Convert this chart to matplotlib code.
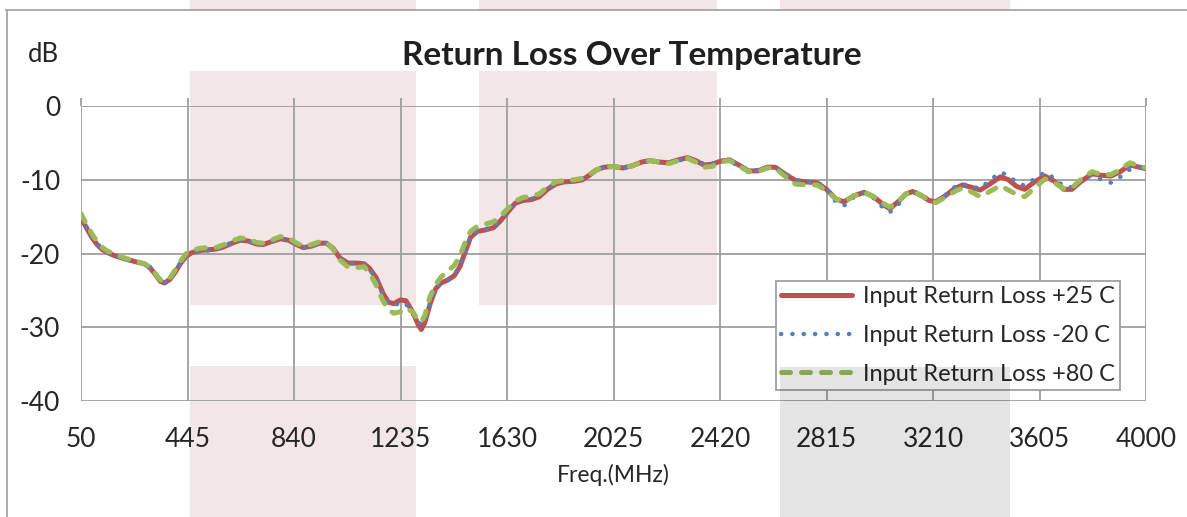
import matplotlib
matplotlib.use("Agg")
import matplotlib.pyplot as plt
from matplotlib.patches import Rectangle
from matplotlib.lines import Line2D

plt.rcParams["font.family"] = ["Lato", "DejaVu Sans"]

# ---- data (MHz, dB) ----
freq = [50, 70, 90, 110, 130, 150, 175, 210, 250, 285,
        305, 325, 345, 360, 380, 400, 420, 440, 460, 490,
        520, 550, 580, 610, 640, 670, 700, 725, 755, 790,
        820, 850, 875, 905, 935, 960, 985, 1010, 1040, 1075,
        1100, 1120, 1145, 1170, 1190, 1210, 1235, 1255, 1280, 1300,
        1312, 1325, 1345, 1365, 1385, 1410, 1435, 1455, 1475, 1495,
        1520, 1550, 1580, 1605, 1630, 1660, 1690, 1720, 1750, 1780,
        1810, 1840, 1880, 1910, 1935, 1960, 1990, 2025, 2060, 2095,
        2130, 2160, 2195, 2230, 2265, 2300, 2330, 2360, 2390, 2420,
        2455, 2490, 2525, 2560, 2595, 2625, 2660, 2700, 2740, 2780,
        2815, 2850, 2880, 2915, 2955, 2990, 3030, 3050, 3080, 3110,
        3135, 3165, 3195, 3220, 3255, 3290, 3320, 3350, 3385, 3420,
        3460, 3490, 3520, 3550, 3590, 3625, 3660, 3695, 3725, 3760,
        3800, 3835, 3870, 3905, 3940, 3975, 4000]

rl_p25 = [-15.2, -16.5, -17.8, -18.8, -19.5, -19.9, -20.3, -20.7, -21.1, -21.4,
          -21.9, -22.8, -23.8, -24.0, -23.5, -22.5, -21.3, -20.4, -19.9, -19.6,
          -19.5, -19.4, -19.1, -18.6, -18.2, -18.3, -18.7, -18.8, -18.4, -18.0,
          -18.2, -18.8, -19.2, -19.0, -18.6, -18.6, -19.3, -20.6, -21.3, -21.3,
          -21.4, -22.0, -23.3, -25.4, -26.6, -26.8, -26.3, -26.4, -27.9, -29.6,
          -30.3, -29.4, -26.8, -24.8, -24.0, -23.6, -23.0, -21.8, -19.8, -17.8,
          -17.0, -16.8, -16.5, -15.6, -14.5, -13.2, -12.8, -12.7, -12.3, -11.3,
          -10.6, -10.3, -10.2, -10.0, -9.4, -8.7, -8.3, -8.2, -8.4, -8.1,
          -7.6, -7.4, -7.6, -7.7, -7.3, -7.0, -7.4, -8.0, -7.9, -7.5,
          -7.3, -8.0, -8.8, -8.8, -8.3, -8.3, -9.2, -10.1, -10.3, -10.4,
          -11.3, -12.6, -13.0, -12.2, -11.7, -12.3, -13.5, -13.9, -13.0, -11.9,
          -11.6, -12.1, -12.8, -13.0, -12.2, -11.2, -10.7, -11.0, -11.4, -10.6,
          -9.6, -10.0, -10.9, -11.3, -10.2, -9.5, -10.2, -11.3, -11.3, -10.2,
          -9.2, -9.4, -9.5, -8.9, -8.0, -8.3, -8.5]

rl_m20 = [-15.0, -16.4, -17.7, -18.7, -19.4, -19.9, -20.3, -20.7, -21.1, -21.4,
          -21.8, -22.7, -23.7, -24.0, -23.5, -22.4, -21.2, -20.3, -19.9, -19.7,
          -19.6, -19.5, -19.0, -18.5, -18.2, -18.3, -18.7, -18.8, -18.4, -18.0,
          -18.2, -18.8, -19.2, -19.0, -18.6, -18.6, -19.3, -20.6, -21.3, -21.4,
          -21.5, -22.1, -23.5, -25.6, -26.8, -27.1, -26.6, -26.8, -28.2, -29.3,
          -29.6, -29.2, -27.0, -24.9, -24.0, -23.6, -22.9, -21.6, -19.6, -17.7,
          -16.9, -16.7, -16.4, -15.5, -14.4, -13.1, -12.7, -12.6, -12.2, -11.2,
          -10.5, -10.2, -10.1, -9.9, -9.3, -8.7, -8.3, -8.2, -8.4, -8.1,
          -7.6, -7.5, -7.6, -7.7, -7.4, -7.1, -7.6, -7.8, -7.8, -7.5,
          -7.4, -8.2, -8.6, -8.7, -8.4, -8.4, -9.2, -10.0, -10.3, -10.3,
          -11.2, -13.0, -13.5, -12.4, -11.8, -12.5, -14.0, -14.4, -13.4, -12.0,
          -11.5, -12.0, -12.7, -12.9, -12.1, -11.0, -10.6, -10.9, -11.2, -10.1,
          -9.0, -9.4, -10.4, -10.8, -9.8, -9.0, -9.8, -10.9, -11.0, -10.0,
          -9.3, -10.0, -10.4, -9.6, -8.6, -8.4, -8.5]

rl_p80 = [-14.6, -16.0, -17.3, -18.4, -19.2, -19.7, -20.1, -20.6, -21.0, -21.4,
          -21.8, -22.7, -23.6, -23.8, -23.3, -22.2, -21.0, -20.0, -19.6, -19.3,
          -19.2, -19.2, -18.8, -18.3, -17.9, -18.0, -18.5, -18.6, -18.2, -17.7,
          -17.9, -18.6, -19.0, -18.8, -18.4, -18.5, -19.4, -20.9, -21.8, -21.9,
          -21.8, -22.6, -24.3, -26.4, -27.6, -28.1, -27.9, -27.4, -27.9, -29.0,
          -29.3, -28.4, -25.8, -24.2, -23.2, -22.4, -21.6, -20.3, -18.5, -17.0,
          -16.3, -16.0, -15.7, -15.0, -14.0, -12.9, -12.4, -12.3, -11.9, -11.0,
          -10.3, -10.1, -10.0, -9.8, -9.3, -8.7, -8.3, -8.2, -8.4, -8.1,
          -7.6, -7.4, -7.6, -7.8, -7.4, -7.1, -7.6, -8.3, -8.2, -7.6,
          -7.4, -8.1, -8.9, -8.9, -8.4, -8.4, -9.5, -10.6, -10.7, -10.7,
          -11.5, -12.6, -13.0, -12.2, -11.7, -12.3, -13.3, -13.7, -13.0, -11.9,
          -11.6, -12.1, -12.8, -13.1, -12.4, -11.6, -11.1, -11.6, -12.3, -11.6,
          -10.8, -11.4, -12.0, -12.3, -11.0, -9.9, -10.4, -11.2, -11.1, -9.9,
          -8.9, -9.3, -9.3, -8.6, -7.7, -8.1, -8.4]

labels = ["Input Return Loss +25 C", "Input Return Loss -20 C", "Input Return Loss +80 C"]
xticks = [50, 445, 840, 1235, 1630, 2025, 2420, 2815, 3210, 3605, 4000]
yticks = [0, -10, -20, -30, -40]

W, H = 1187, 517
fig = plt.figure(figsize=(W / 100, H / 100), dpi=100)
fig.patch.set_facecolor("white")

def px_rect(x0, y0, x1, y1, **kw):
    # rectangle in figure pixels, top-left origin
    return Rectangle((x0 / W, 1 - y1 / H), (x1 - x0) / W, (y1 - y0) / H,
                     transform=fig.transFigure, lw=0, **kw)

# ---- page-level tinted blocks behind the chart ----
PINK = "#f3e6e6"
for r in [(190, 0, 416, 10), (190, 71, 416, 305), (190, 366, 416, H),
          (479, 0, 717, 10), (479, 71, 717, 305), (780, 0, 1010, 10)]:
    fig.patches.append(px_rect(*r, fc=PINK, zorder=-5))

# ---- outer chart frame (top and left edges only visible) ----
GRID = "#9e9e9e"
TXT = "#262626"
fig.add_artist(Line2D([6 / W, 1], [1 - 10 / H, 1 - 10 / H], transform=fig.transFigure,
                      color="#a6a6a6", lw=1.3, zorder=-4))
fig.add_artist(Line2D([6.5 / W, 6.5 / W], [0, 1 - 10 / H], transform=fig.transFigure,
                      color="#a6a6a6", lw=1.3, zorder=-4))

ax = fig.add_axes([81 / W, 1 - 401 / H, (1146 - 81) / W, (401 - 106) / H])
ax.set_facecolor("none")

colors = ["#c0504d", "#4f81bd", "#9bbb59"]
ax.plot(freq, rl_p25, color=colors[0], lw=3.6, solid_capstyle="round",
        solid_joinstyle="round", label=labels[0], zorder=3)
ax.plot(freq, rl_m20, color=colors[1], lw=3.2, dashes=(0.05, 2.5),
        dash_capstyle="round", label=labels[1], zorder=4)
ax.plot(freq, rl_p80, color=colors[2], lw=3.6, dashes=(1.8, 2.2),
        dash_capstyle="round", dash_joinstyle="round", label=labels[2], zorder=5)

ax.set_xlim(50, 4000)
ax.set_ylim(-40, 0)
ax.set_xticks(xticks)
ax.set_yticks(yticks)
ax.set_xticklabels([str(t) for t in xticks])
ax.set_yticklabels([str(t) for t in yticks])
ax.grid(True, color=GRID, lw=1.3)
ax.set_axisbelow(True)
for s in ax.spines.values():
    s.set_visible(False)
ax.tick_params(axis="x", top=True, bottom=False, labeltop=False, labelbottom=True,
               direction="out", length=5.5, width=1.3, color=GRID, pad=13,
               labelsize=19, labelcolor=TXT)
ax.tick_params(axis="y", left=False, length=0, pad=15, labelsize=19, labelcolor=TXT)

ax.set_xlabel("Freq.(MHz)", fontsize=16.5, color=TXT, labelpad=9)
fig.text(43 / W, 1 - 55 / H, "dB", ha="center", va="center", fontsize=18.5, color=TXT)
fig.text(632 / W, 1 - 55 / H, "Return Loss Over Temperature", ha="center", va="center",
         fontsize=24, fontweight="bold", color="#1f1f1f")

leg = ax.legend(loc="upper left", bbox_to_anchor=((776 - 81) / 1065, (401 - 281) / 295),
                fontsize=17, frameon=True, fancybox=False, handlelength=3.0,
                handletextpad=0.45, labelspacing=0.75, borderpad=0.22, borderaxespad=0)
leg.get_frame().set_edgecolor("#a0a0a0")
leg.get_frame().set_linewidth(1.3)
leg.get_frame().set_facecolor("white")
leg.get_frame().set_alpha(1)
for t in leg.get_texts():
    t.set_color(TXT)

# ---- grey block laid over the lower part ----
fig.patches.append(px_rect(780, 367, 1010, H, fc="black", alpha=0.105, zorder=20))

fig.savefig("out.png", dpi=100)
